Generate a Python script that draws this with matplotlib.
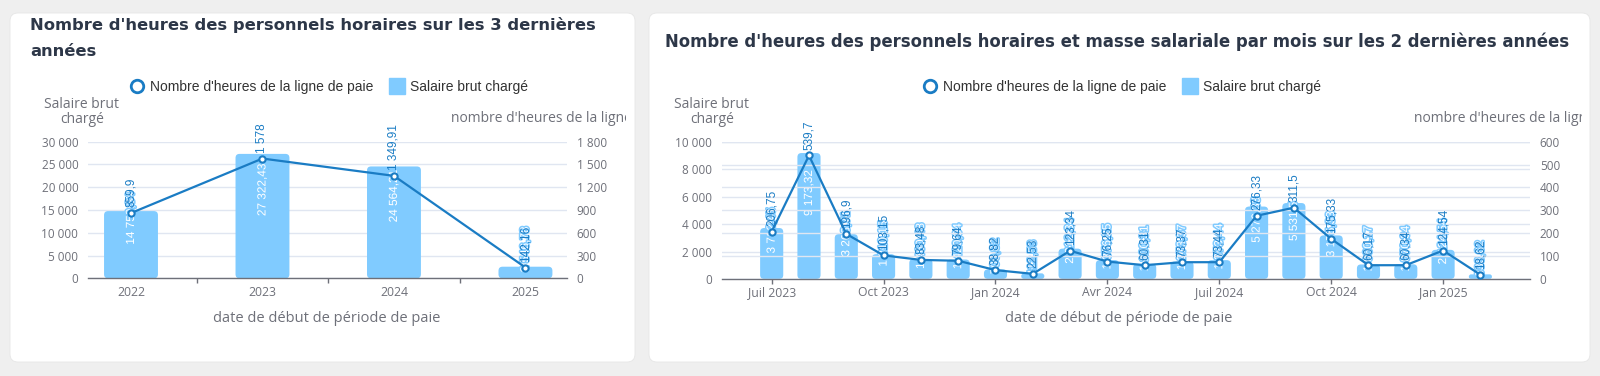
import matplotlib
matplotlib.use("Agg")
import matplotlib.pyplot as plt
from matplotlib.patches import FancyBboxPatch
from matplotlib.lines import Line2D
from matplotlib.transforms import IdentityTransform, Bbox, TransformedBbox
import matplotlib.patheffects as pe

# ---------------- data ----------------
annees = ['2022', '2023', '2024', '2025']
salaire_annuel = [14759.34, 27322.43, 24564.21, 2546.78]
heures_annuel = [859.9, 1578, 1349.91, 142.16]

mois_ticks = ['Juil 2023', 'Oct 2023', 'Jan 2024', 'Avr 2024', 'Juil 2024', 'Oct 2024', 'Jan 2025']
salaire_mensuel = [3712.45, 9173.32, 3268.71, 1810.15, 1460.48, 1420.04, 700.82, 412.53,
                   2212.34, 1376.25, 1100.31, 1273.37, 1373.44, 5276.33, 5531.50, 3175.33,
                   1060.17, 1070.34, 2124.54, 338.62]
heures_mensuel = [206.75, 539.7, 196.9, 103.15, 83.48, 79.64, 38.82, 22.53,
                  123.34, 76.25, 60.31, 73.37, 73.44, 276.33, 311.5, 175.33,
                  60.17, 60.34, 124.54, 18.62]

titre_gauche_l1 = "Nombre d'heures des personnels horaires sur les 3 dernières"
titre_gauche_l2 = "années"
titre_droite = "Nombre d'heures des personnels horaires et masse salariale par mois sur les 2 dernières années"
legende = ["Nombre d'heures de la ligne de paie", "Salaire brut chargé"]
nom_axe_gauche = "Salaire brut\nchargé"
nom_axe_droite = "nombre d'heures de la ligne de paie"
nom_axe_x = "date de début de période de paie"

# ---------------- style ----------------
W, H = 1600, 376
BG = '#efefef'
BAR = '#80CBFF'
LINE = '#1A7CC4'
GRID = '#E0E6F1'
AXC = '#6E7079'
TITLE_C = '#2D3748'
TICK_FONT = 'Open Sans'
LAB_FONT = 'Liberation Sans'
TITLE_FONT = 'DejaVu Sans'

fig = plt.figure(figsize=(W / 100, H / 100), dpi=100)
fig.patch.set_facecolor(BG)


def fr(v):
    s = f"{v:,.2f}"
    if '.' in s:
        s = s.rstrip('0').rstrip('.')
    return s.replace(',', ' ').replace('.', ',')


def card(x0, y0, x1, y1):
    p = FancyBboxPatch((x0, H - y1), x1 - x0, y1 - y0,
                       boxstyle="round,pad=0,rounding_size=8",
                       transform=IdentityTransform(), facecolor='white',
                       edgecolor='#e6e6e6', linewidth=0.6, zorder=-10)
    fig.patches.append(p)
    return p


def add_ax(x0, x1, ytop, ybot):
    return fig.add_axes([x0 / W, 1 - ybot / H, (x1 - x0) / W, (ybot - ytop) / H])


def style_axes(ax, ax2):
    for a in (ax, ax2):
        for s in ['top', 'right', 'left', 'bottom']:
            a.spines[s].set_visible(False)
        a.patch.set_alpha(0)
    ax.spines['bottom'].set_visible(True)
    ax.spines['bottom'].set_color(AXC)
    ax.spines['bottom'].set_linewidth(1)
    ax.tick_params(axis='y', length=0, pad=7, labelsize=8.5, labelcolor=AXC)
    ax2.tick_params(axis='y', length=0, pad=7, labelsize=8.5, labelcolor=AXC)
    for lab in ax.get_yticklabels() + ax2.get_yticklabels() + ax.get_xticklabels():
        lab.set_fontfamily(TICK_FONT)


def rounded_bars(ax, xs, vals, width, px_per_x, px_per_y, r_px=4):
    bars = ax.bar(xs, vals, width=width, color=BAR, zorder=2)
    for b in bars:
        b.set_visible(False)
        x, y = b.get_x(), b.get_y()
        w, h = b.get_width(), b.get_height()
        hpx = h * px_per_y
        r = min(r_px, hpx / 2.0, w * px_per_x / 2.0)
        rs = r / px_per_x
        aspect = px_per_x / px_per_y
        fb = FancyBboxPatch((x, y), w, h, boxstyle=f"round,pad=0,rounding_size={rs}",
                            mutation_aspect=aspect, facecolor=BAR, edgecolor='none', zorder=2)
        ax.add_patch(fb)
    return bars


def labels(ax, ax2, xs, bars_v, line_v):
    for x, v in zip(xs, bars_v):
        ax.text(x, v / 2.0, fr(v), rotation=90, ha='center', va='bottom', color='white',
                fontsize=8.5, family=LAB_FONT, zorder=5,
                path_effects=[pe.withStroke(linewidth=2.2, foreground=BAR)])
    for x, v in zip(xs, line_v):
        ax2.annotate(fr(v), (x, v), xytext=(0, 4), textcoords='offset points',
                     rotation=90, ha='center', va='bottom', color=LINE,
                     fontsize=8.5, family=LAB_FONT, zorder=6)


def legend_at(cx, cy):
    h1 = Line2D([], [], color='none', marker='o', markersize=9, markerfacecolor='white',
                markeredgecolor=LINE, markeredgewidth=2)
    h2 = Line2D([], [], color='none', marker='s', markersize=12, markerfacecolor=BAR,
                markeredgecolor=BAR)
    leg = fig.legend([h1, h2], legende, loc='center', bbox_to_anchor=(cx / W, 1 - cy / H),
                     ncol=2, frameon=False, handlelength=1.0, handletextpad=0.45,
                     columnspacing=1.2, prop={'family': LAB_FONT, 'size': 10})
    for t in leg.get_texts():
        t.set_color('#333333')


def clipped_text(x, y, s, xclip0, xclip1):
    t = fig.text(x / W, 1 - y / H, s, ha='center', va='center', fontsize=10,
                 color=AXC, family=TICK_FONT)
    bb = TransformedBbox(Bbox([[xclip0, 0], [xclip1, H]]), IdentityTransform())
    t.set_clip_box(bb)
    t.set_clip_on(True)
    return t


def title(x, y, s, size):
    fig.text(x / W, 1 - y / H, s, ha='left', va='center', fontsize=size,
             fontweight='bold', color=TITLE_C, family=TITLE_FONT)


# ---------------- left card ----------------
card(10, 13, 635, 362)
title(30, 25, titre_gauche_l1, 11.8)
title(30, 51, titre_gauche_l2, 11.8)
legend_at(329, 87)

axL = add_ax(88, 567, 141.7, 278.3)
axL2 = axL.twinx()
xL = list(range(len(annees)))
axL.set_xlim(-0.327, 3.316)
axL.set_ylim(0, 30000)
axL2.set_ylim(0, 1800)
axL.set_yticks(range(0, 30001, 5000))
axL.set_yticklabels([fr(v) for v in range(0, 30001, 5000)])
axL2.set_yticks(range(0, 1801, 300))
axL2.set_yticklabels([fr(v) for v in range(0, 1801, 300)])
axL.grid(axis='y', color=GRID, linewidth=1, zorder=0)
axL.set_axisbelow(True)
axL.set_xticks(xL)
axL.set_xticklabels(annees)
axL.set_xticks([0.5, 1.5, 2.5], minor=True)
axL.tick_params(axis='x', which='major', length=0, pad=5.5, labelsize=8.8, labelcolor=AXC)
axL.tick_params(axis='x', which='minor', length=3.6, color=AXC, width=1)
style_axes(axL, axL2)
rounded_bars(axL, xL, salaire_annuel, 0.41, 131.5, 136.6 / 30000)
axL2.plot(xL, heures_annuel, color=LINE, linewidth=1.6, marker='o', markersize=4.5,
          markerfacecolor='white', markeredgecolor=LINE, markeredgewidth=1.5, zorder=4)
labels(axL, axL2, xL, salaire_annuel, heures_annuel)

fig.text(82 / W, 1 - 112 / H, nom_axe_gauche, ha='center', va='center', fontsize=10,
         color=AXC, family=TICK_FONT, linespacing=1.0)
clipped_text(567, 118, nom_axe_droite, 10, 626)
fig.text(327 / W, 1 - 319 / H, nom_axe_x, ha='center', va='center', fontsize=10.5,
         color=AXC, family=TICK_FONT)

# ---------------- right card ----------------
card(649, 13, 1590, 362)
title(665, 41.5, titre_droite, 11.9)
legend_at(1122, 87)

axR = add_ax(721.7, 1530, 141.7, 279)
axR2 = axR.twinx()
xR = list(range(len(salaire_mensuel)))
axR.set_xlim(-1.34, 20.33)
axR.set_ylim(0, 10000)
axR2.set_ylim(0, 600)
axR.set_yticks(range(0, 10001, 2000))
axR.set_yticklabels([fr(v) for v in range(0, 10001, 2000)])
axR2.set_yticks(range(0, 601, 100))
axR2.set_yticklabels([fr(v) for v in range(0, 601, 100)])
axR.grid(axis='y', color=GRID, linewidth=1, zorder=0)
axR2.grid(axis='y', color=GRID, linewidth=1, zorder=0)
axR.set_axisbelow(True)
axR2.set_axisbelow(True)
axR.set_xticks(list(range(0, 19, 3)))
axR.set_xticklabels(mois_ticks)
axR.tick_params(axis='x', which='major', length=3.6, color=AXC, width=1, pad=1.5,
                labelsize=8.8, labelcolor=AXC)
style_axes(axR, axR2)
rounded_bars(axR, xR, salaire_mensuel, 0.62, 37.3, 137.3 / 10000)
axR2.plot(xR, heures_mensuel, color=LINE, linewidth=1.6, marker='o', markersize=4.5,
          markerfacecolor='white', markeredgecolor=LINE, markeredgewidth=1.5, zorder=4)
labels(axR, axR2, xR, salaire_mensuel, heures_mensuel)

fig.text(712 / W, 1 - 112 / H, nom_axe_gauche, ha='center', va='center', fontsize=10,
         color=AXC, family=TICK_FONT, linespacing=1.0)
clipped_text(1530, 118, nom_axe_droite, 649, 1582)
fig.text(1119 / W, 1 - 319 / H, nom_axe_x, ha='center', va='center', fontsize=10.5,
         color=AXC, family=TICK_FONT)

fig.savefig('out.png', dpi=100, facecolor=BG)
